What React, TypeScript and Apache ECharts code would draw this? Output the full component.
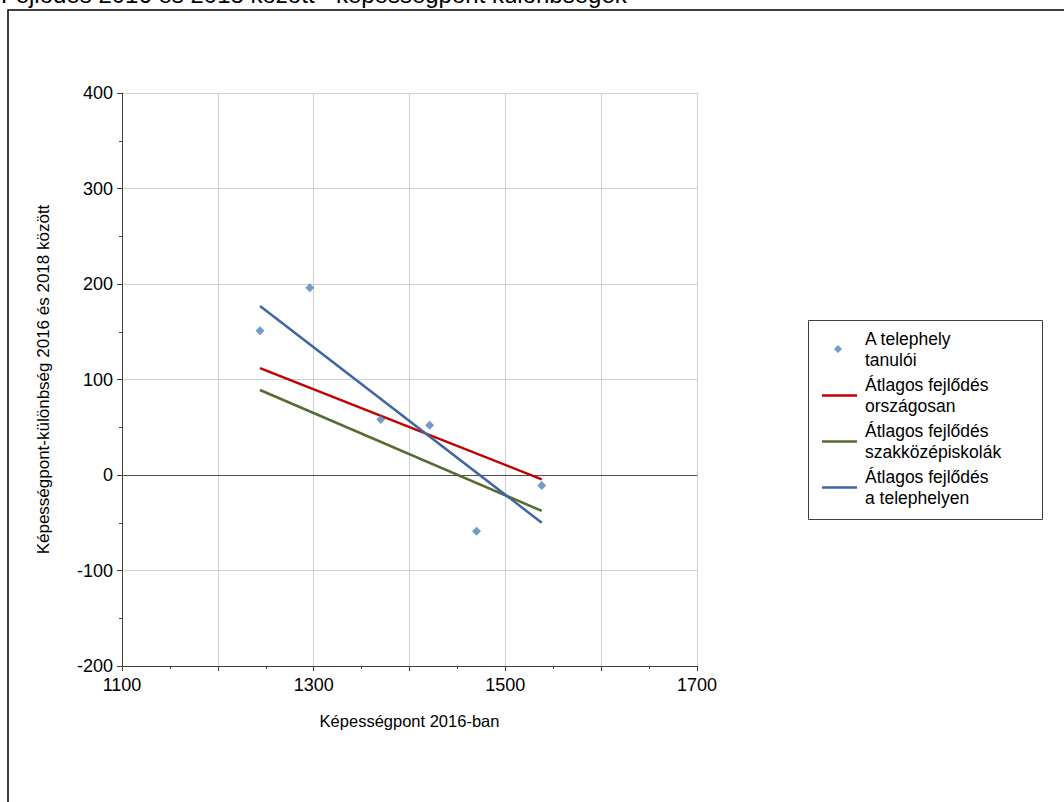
import React, { useEffect, useRef } from "react";
import * as echarts from "echarts";

const pointX = [1244, 1296, 1370, 1421, 1470, 1538];
const pointY = [151, 196, 58, 52, -59, -11];
const lineX = [1244, 1538];
const nationalY = [112, -4.5];
const vocationalY = [89, -37.6];
const siteY = [177, -50];
const seriesNames = [
  "A telephely tanulói",
  "Átlagos fejlődés országosan",
  "Átlagos fejlődés szakközépiskolák",
  "Átlagos fejlődés a telephelyen",
];
const legendLabels = [
  "A telephely\ntanulói",
  "Átlagos fejlődés\nországosan",
  "Átlagos fejlődés\nszakközépiskolák",
  "Átlagos fejlődés\na telephelyen",
];
const titleText = "Fejlődés 2016 és 2018 között - képességpont különbségek";
const xAxisTitle = "Képességpont 2016-ban";
const yAxisTitle = "Képességpont-különbség 2016 és 2018 között";
const xMin = 1100, xMax = 1700, xStep = 100;
const yMin = -200, yMax = 400, yStep = 100;

const FONT = "'Liberation Sans', Arial, sans-serif";

export default function App() {
  const ref = useRef<HTMLDivElement>(null);
  useEffect(() => {
    if (!ref.current) return;
    const chart = echarts.init(ref.current, null, { renderer: "svg" });
    const pairs = (xs: number[], ys: number[]) => xs.map((x, i) => [x, ys[i]]);
    const legendFmt = (name: string) => legendLabels[seriesNames.indexOf(name)] ?? name;
    const legendText = { fontSize: 17.5, lineHeight: 21, color: "#000", fontFamily: FONT };
    chart.setOption({
      animation: false,
      backgroundColor: "#fff",
      textStyle: { fontFamily: FONT },
      grid: { left: 122, top: 93, width: 575, height: 573, containLabel: false },
      xAxis: {
        type: "value",
        min: xMin,
        max: xMax,
        interval: xStep,
        name: xAxisTitle,
        nameLocation: "middle",
        nameGap: 46,
        nameTextStyle: { fontSize: 16.5, color: "#000", fontFamily: FONT },
        axisLine: { show: true, onZero: false, lineStyle: { color: "#404040", width: 1 } },
        axisTick: { show: true, length: 5, lineStyle: { color: "#404040" } },
        minorTick: { show: true, splitNumber: 2, length: 3, lineStyle: { color: "#404040" } },
        axisLabel: {
          fontSize: 18,
          color: "#000",
          fontFamily: FONT,
          margin: 10,
          formatter: (v: number) => ((v - xMin) % 200 === 0 ? String(v) : ""),
        },
        splitLine: { show: true, lineStyle: { color: "#d0d0d0", width: 1 } },
      },
      yAxis: {
        type: "value",
        min: yMin,
        max: yMax,
        interval: yStep,
        name: yAxisTitle,
        nameLocation: "middle",
        nameGap: 70,
        nameTextStyle: { fontSize: 17, color: "#000", fontFamily: FONT },
        axisLine: { show: true, onZero: false, lineStyle: { color: "#404040", width: 1 } },
        axisTick: { show: true, length: 5, lineStyle: { color: "#404040" } },
        minorTick: { show: true, splitNumber: 2, length: 3, lineStyle: { color: "#404040" } },
        axisLabel: { fontSize: 18, color: "#000", fontFamily: FONT, margin: 9 },
        splitLine: { show: true, lineStyle: { color: "#d0d0d0", width: 1 } },
      },
      legend: [
        {
          data: [{ name: seriesNames[0], icon: "diamond" }],
          left: 834,
          top: 328,
          orient: "vertical",
          padding: 0,
          itemWidth: 8,
          itemHeight: 8,
          selectedMode: false,
          formatter: legendFmt,
          textStyle: { ...legendText, padding: [0, 0, 0, 18] },
        },
        {
          data: seriesNames.slice(1).map((n) => ({ name: n, icon: "rect" })),
          left: 822,
          top: 374.5,
          orient: "vertical",
          padding: 0,
          itemWidth: 35,
          itemHeight: 2.5,
          itemGap: 4,
          selectedMode: false,
          formatter: legendFmt,
          textStyle: { ...legendText, padding: [0, 0, 0, 3] },
        },
      ],
      graphic: [
        {
          type: "rect",
          shape: { x: 8, y: 10, width: 1100, height: 900 },
          style: { fill: "none", stroke: "#000", lineWidth: 1.5 },
          silent: true,
          z: -10,
        },
        {
          type: "rect",
          shape: { x: 808.5, y: 320.5, width: 234, height: 199 },
          style: { fill: "none", stroke: "#404040", lineWidth: 1 },
          silent: true,
        },
        {
          type: "text",
          x: 1,
          y: -6,
          style: {
            text: titleText,
            font: `24px ${FONT}`,
            fill: "#000",
            textAlign: "left",
            textVerticalAlign: "middle",
          },
          silent: true,
        },
      ],
      series: [
        {
          name: seriesNames[0],
          type: "scatter",
          symbol: "diamond",
          symbolSize: 9,
          itemStyle: { color: "#4F81BD" },
          data: pairs(pointX, pointY),
          z: 5,
          markLine: {
            silent: true,
            symbol: "none",
            label: { show: false },
            lineStyle: { color: "#505050", width: 1, type: "solid" },
            data: [{ yAxis: 0 }],
            z: 1,
          },
        },
        {
          name: seriesNames[1],
          type: "line",
          symbol: "none",
          lineStyle: { color: "#C00000", width: 2.5 },
          itemStyle: { color: "#C00000" },
          data: pairs(lineX, nationalY),
          z: 3,
        },
        {
          name: seriesNames[2],
          type: "line",
          symbol: "none",
          lineStyle: { color: "#556B2F", width: 2.5 },
          itemStyle: { color: "#556B2F" },
          data: pairs(lineX, vocationalY),
          z: 3,
        },
        {
          name: seriesNames[3],
          type: "line",
          symbol: "none",
          lineStyle: { color: "#3E66A2", width: 2.5 },
          itemStyle: { color: "#3E66A2" },
          data: pairs(lineX, siteY),
          z: 4,
        },
      ],
    });
    return () => chart.dispose();
  }, []);
  return (
    <div
      ref={ref}
      style={{ position: "fixed", left: 0, top: 0, width: 1064, height: 802 }}
    />
  );
}
